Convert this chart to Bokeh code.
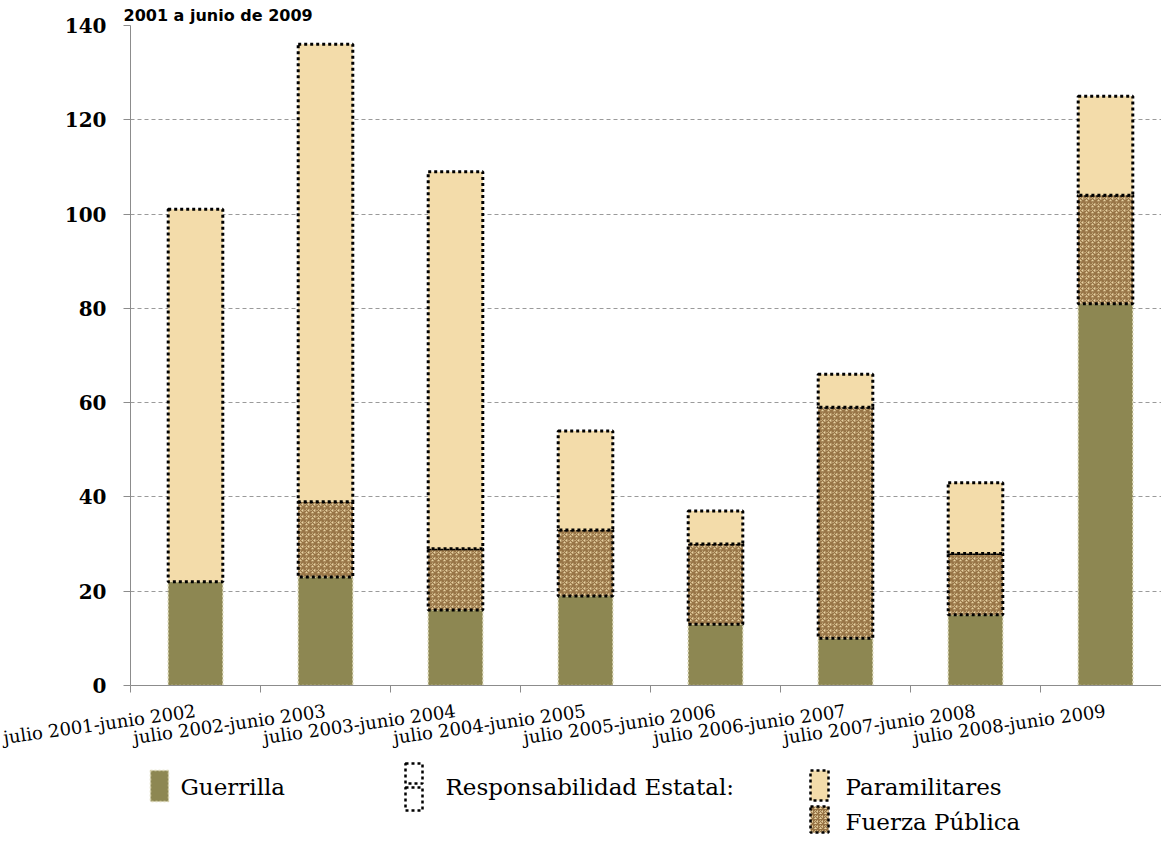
from bokeh.plotting import figure
from bokeh.models import Range1d, FixedTicker, ColumnDataSource
from bokeh.layouts import column
from bokeh.embed import file_html
from bokeh.resources import INLINE
from bokeh.core.properties import value

categories = ["julio 2001-junio 2002", "julio 2002-junio 2003", "julio 2003-junio 2004",
              "julio 2004-junio 2005", "julio 2005-junio 2006", "julio 2006-junio 2007",
              "julio 2007-junio 2008", "julio 2008-junio 2009"]
guerrilla = [22, 23, 16, 19, 13, 10, 15, 81]
fuerza_publica = [0, 16, 13, 14, 17, 49, 13, 23]
paramilitares = [79, 97, 80, 21, 7, 7, 15, 21]
y_ticks = [0, 20, 40, 60, 80, 100, 120, 140]
title_text = "2001 a junio de 2009"
legend_labels = ["Guerrilla", "Responsabilidad Estatal:", "Paramilitares", "Fuerza Pública"]

OLIVE = "#8d8752"
TAN = "#f3dcaa"
FP_BG = "#e8d3a3"
FP_HATCH = "#977446"
SERIF = "DejaVu Serif"

n = len(categories)
xs = [i + 0.5 for i in range(n)]
g_top = guerrilla
fp_top = [g + f for g, f in zip(guerrilla, fuerza_publica)]
p_top = [a + b for a, b in zip(fp_top, paramilitares)]

src = ColumnDataSource(dict(x=xs, g_top=g_top, fp_top=fp_top, p_top=p_top))

p = figure(width=1161, height=761, output_backend="svg", toolbar_location=None,
           x_range=Range1d(0, 1031 / 130), y_range=Range1d(0, 140),
           min_border_top=25, min_border_bottom=75, min_border_left=130, min_border_right=0)
p.outline_line_color = None

p.title.text = title_text
p.title.text_font = "DejaVu Sans"
p.title.text_font_style = "bold"
p.title.text_font_size = "16px"
p.title.text_color = "black"
p.title.align = "left"
p.title.standoff = 2
p.title.offset = -7

W = 0.42
p.vbar(x="x", bottom=0, top="g_top", width=W, source=src, fill_color=OLIVE,
       line_color="#d8d3b0", line_width=1.5, line_dash="2 2")
fp_idx = [i for i, f in enumerate(fuerza_publica) if f > 0]
src_fp = ColumnDataSource(dict(x=[xs[i] for i in fp_idx], b=[g_top[i] for i in fp_idx],
                               t=[fp_top[i] for i in fp_idx]))
p.vbar(x="x", bottom="b", top="t", width=W, source=src_fp, fill_color=FP_BG,
       hatch_pattern="criss_cross", hatch_color=FP_HATCH, hatch_scale=6, hatch_weight=1.3,
       line_color="black", line_width=3, line_dash="3 3")
p.vbar(x="x", bottom="fp_top", top="p_top", width=W, source=src, fill_color=TAN,
       line_color="black", line_width=3, line_dash="3 3")

p.yaxis.ticker = FixedTicker(ticks=y_ticks)
p.yaxis.axis_line_color = "#8c8c8c"
p.yaxis.major_tick_line_color = "#8c8c8c"
p.yaxis.major_tick_out = 7
p.yaxis.major_tick_in = 0
p.yaxis.minor_tick_line_color = None
p.yaxis.major_label_text_font = SERIF
p.yaxis.major_label_text_font_style = "bold"
p.yaxis.major_label_text_font_size = "20px"
p.yaxis.major_label_text_color = "black"
p.yaxis.major_label_standoff = 17

p.xaxis.ticker = FixedTicker(ticks=xs, minor_ticks=[float(i) for i in range(n + 1)])
p.xaxis.major_label_overrides = {x: c for x, c in zip(xs, categories)}
p.xaxis.major_label_orientation = 0.14
p.xaxis.major_tick_line_color = None
p.xaxis.minor_tick_line_color = "#8c8c8c"
p.xaxis.minor_tick_out = 7
p.xaxis.minor_tick_in = 0
p.xaxis.axis_line_color = "#8c8c8c"
p.xaxis.major_label_text_font = SERIF
p.xaxis.major_label_text_font_size = "18px"
p.xaxis.major_label_text_color = "black"
p.xaxis.major_label_standoff = 18

p.xgrid.grid_line_color = None
p.ygrid.ticker = FixedTicker(ticks=y_ticks[1:])
p.ygrid.grid_line_color = "#9a9a9a"
p.ygrid.grid_line_dash = "4 3"
p.ygrid.grid_line_width = 1

lg = figure(width=1161, height=81, output_backend="svg", toolbar_location=None,
            x_range=Range1d(130, 1161), y_range=Range1d(87, 6), min_border=0)
lg.axis.visible = False
lg.grid.visible = False
lg.outline_line_color = None

lg.quad(left=[150], right=[168], top=[15], bottom=[46], fill_color=OLIVE,
        line_color="#d8d3b0", line_width=1.5, line_dash="2 2")
lg.quad(left=[405, 405], right=[422, 422], top=[8, 32], bottom=[28, 55], fill_color=None,
        line_color="black", line_width=2.5, line_dash="3 3")
lg.quad(left=[810], right=[828], top=[15], bottom=[45], fill_color=TAN,
        line_color="black", line_width=2.5, line_dash="3 3")
lg.quad(left=[810], right=[828], top=[51], bottom=[77], fill_color=FP_BG,
        hatch_pattern="criss_cross", hatch_color=FP_HATCH, hatch_scale=5, hatch_weight=1.2,
        line_color="black", line_width=2.5, line_dash="3 3")
lg.text(x=[180, 445, 845, 845], y=[31, 31, 31, 66], text=legend_labels,
        text_font=value(SERIF), text_font_size="23px", text_baseline="middle",
        text_color="black")

layout = column(p, lg, spacing=0)
open("out.html", "w").write(file_html(layout, INLINE))
